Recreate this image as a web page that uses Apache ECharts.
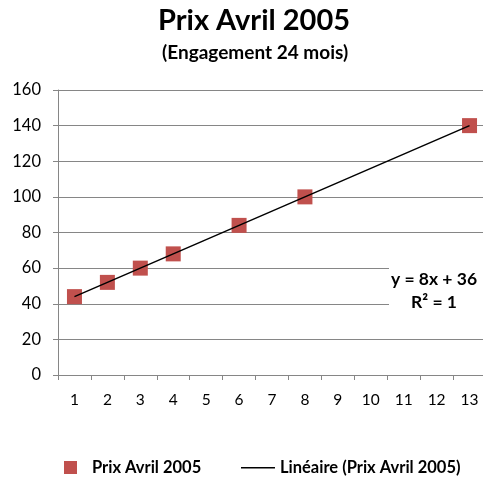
<!DOCTYPE html>
<html>
<head>
<meta charset="utf-8">
<script src="https://cdn.jsdelivr.net/npm/echarts@6/dist/echarts.min.js"></script>
<style>
  html, body { margin: 0; padding: 0; background: #fff; }
  #chart { width: 483px; height: 477px; }
</style>
</head>
<body>
<div id="chart"></div>
<script>
// categories on the x axis
const categories = ['1','2','3','4','5','6','7','8','9','10','11','12','13'];
// prices (null = no point)
const prix = [44, 52, 60, 68, null, 84, null, 100, null, null, null, null, 140];
// trend line end points
const trendCats = ['1', '13'];
const trendVals = [44, 140];

const font = 'Lato, "Open Sans", sans-serif';
const gridColor = '#868686';
// thin line icon with padded bounding box so it is not stretched
const lineIcon = 'path://M0,0H0.01V0.01H0Z M0,6H34V7.5H0Z M0,13H0.01V13.01H0Z';

const chart = echarts.init(document.getElementById('chart'));
chart.setOption({
  animation: false,
  grid: { left: 58, width: 428, top: 90, bottom: 102, outerBoundsMode: 'none' },
  graphic: [
    { type: 'text', left: 158, top: 6, style: { text: 'Prix Avril 2005', font: 'bold 29px ' + font, fill: '#000' } },
    { type: 'text', left: 162, top: 43, style: { text: '(Engagement 24 mois)', font: 'bold 19px ' + font, fill: '#000' } },
    { type: 'rect', left: 389, top: 268, shape: { width: 94, height: 42 }, style: { fill: '#fff' }, z: 10 },
    { type: 'text', x: 434, y: 270, z: 11, style: { text: 'y = 8x + 36', align: 'center', font: 'bold 17.5px ' + font, fill: '#000' } },
    { type: 'text', x: 434, y: 293, z: 11, style: { text: 'R² = 1', align: 'center', font: 'bold 17.5px ' + font, fill: '#000' } }
  ],
  legend: [
    {
      data: [{ name: 'Prix Avril 2005', icon: 'rect' }],
      left: 64, top: 459, itemWidth: 13, itemHeight: 13, padding: 0,
      textStyle: { fontFamily: font, fontWeight: 'bold', fontSize: 16.5, color: '#000', padding: [0, 0, 0, 10] }
    },
    {
      data: [{ name: 'Linéaire (Prix Avril 2005)', icon: lineIcon }],
      left: 241, top: 459, itemWidth: 34, itemHeight: 13, padding: 0,
      itemStyle: { color: '#000' },
      textStyle: { fontFamily: font, fontWeight: 'bold', fontSize: 16.5, color: '#000' }
    }
  ],
  xAxis: {
    type: 'category',
    data: categories,
    boundaryGap: true,
    axisLine: { lineStyle: { color: gridColor } },
    axisTick: { show: true, length: 5, lineStyle: { color: gridColor } },
    axisLabel: { color: '#000', fontFamily: font, fontSize: 15.5, margin: 17 },
    splitLine: { show: false }
  },
  yAxis: {
    type: 'value',
    min: 0, max: 160, interval: 20,
    axisLine: { show: true, lineStyle: { color: gridColor } },
    axisTick: { show: true, length: 5, lineStyle: { color: gridColor } },
    axisLabel: { color: '#000', fontFamily: font, fontSize: 16.5, margin: 17 },
    splitLine: { lineStyle: { color: gridColor, width: 1 } }
  },
  series: [
    {
      name: 'Linéaire (Prix Avril 2005)',
      type: 'line',
      data: categories.map(c => {
        const i = trendCats.indexOf(c);
        return i >= 0 ? trendVals[i] : null;
      }),
      connectNulls: true,
      symbol: 'none',
      lineStyle: { color: '#000', width: 1.5 },
      itemStyle: { color: '#000' },
      z: 3
    },
    {
      name: 'Prix Avril 2005',
      type: 'scatter',
      data: prix,
      symbol: 'rect',
      symbolSize: 15,
      itemStyle: { color: '#C0504D', opacity: 1 },
      z: 2
    }
  ]
});
</script>
</body>
</html>
